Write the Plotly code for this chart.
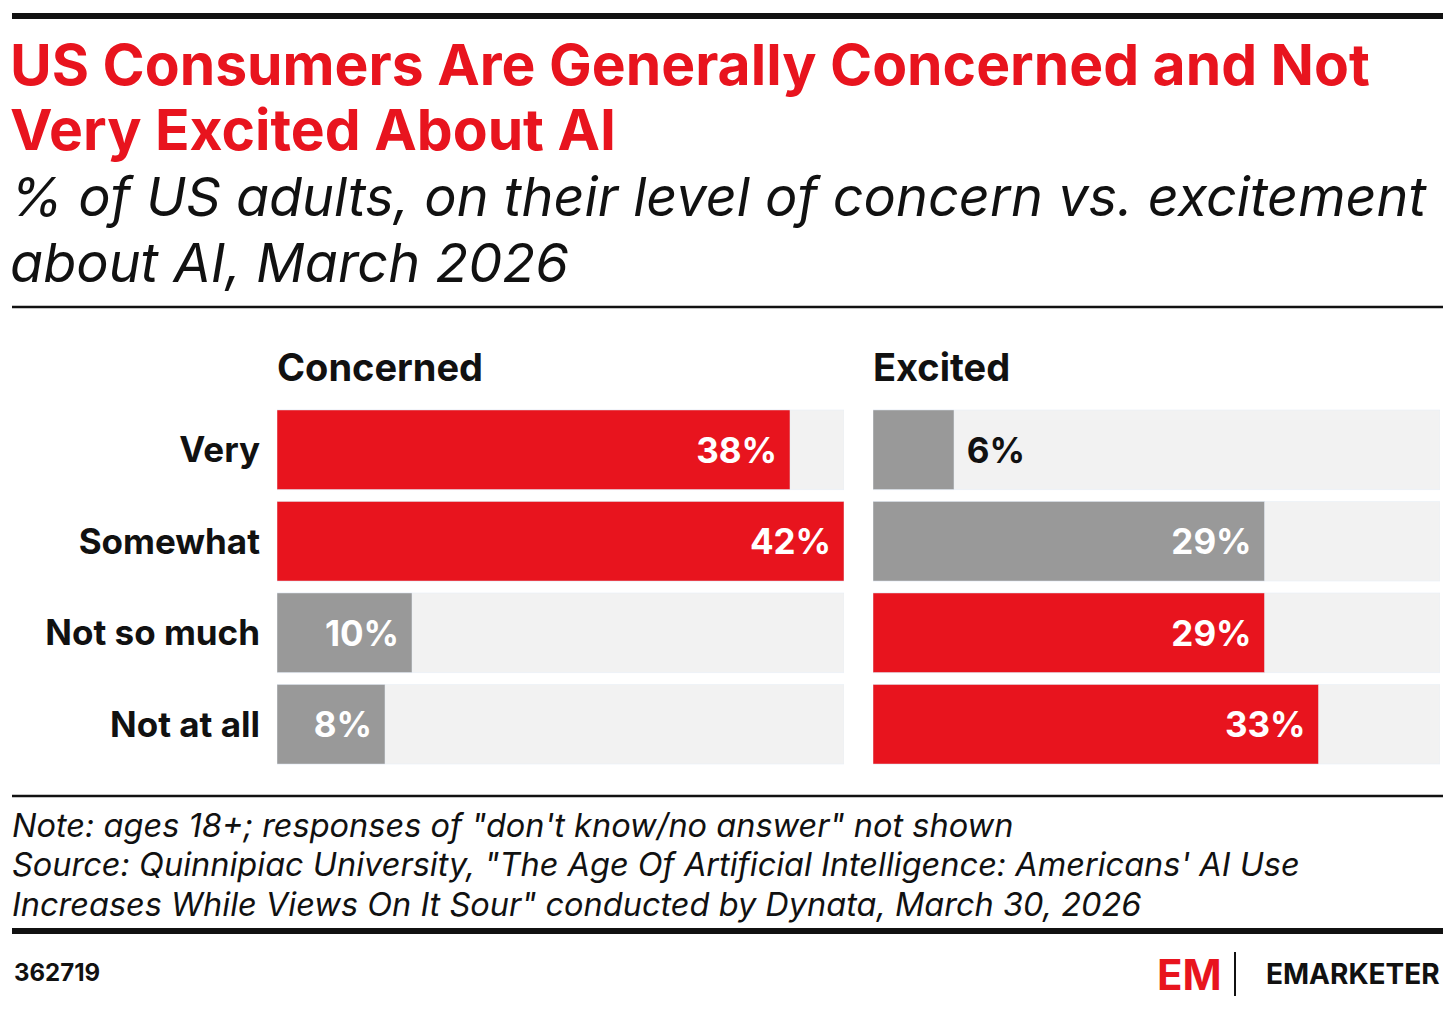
import plotly.graph_objects as go

categories = ["Very", "Somewhat", "Not so much", "Not at all"]
concerned = [38, 42, 10, 8]
excited = [6, 29, 29, 33]
concerned_colors = ["#e8141e", "#e8141e", "#999999", "#999999"]
excited_colors = ["#999999", "#999999", "#e8141e", "#e8141e"]

# page has an 8px body margin, so the figure is drawn 16px smaller
OFF = 8
W, H = 1455 - 2 * OFF, 1009 - 2 * OFF
RED = "#e8141e"
FONT = "Inter"

def px(x):
    return (x - OFF) / W

def py(y):
    return 1 - (y - OFF) / H

fig = go.Figure()

for vals, cols, xa, ya in [(concerned, concerned_colors, "x", "y"),
                           (excited, excited_colors, "x2", "y2")]:
    fig.add_trace(go.Bar(y=categories, x=[42] * 4, orientation="h",
                         marker_color="#f2f2f2", hoverinfo="skip",
                         xaxis=xa, yaxis=ya, showlegend=False))
    inside = [v >= 8 for v in vals]
    fig.add_trace(go.Bar(
        y=categories, x=vals, orientation="h", marker_color=cols,
        text=[f"<b>{v}%</b>&nbsp;" if i else f"&nbsp;<b>{v}%</b>" for v, i in zip(vals, inside)],
        textposition=["inside" if i else "outside" for i in inside],
        insidetextanchor="end",
        textfont=dict(family=FONT, size=35, color=["white" if i else "#111" for i in inside]),
        cliponaxis=False, xaxis=xa, yaxis=ya, showlegend=False))

ax = dict(range=[0, 42], visible=False, fixedrange=True)
fig.update_layout(
    width=W, height=H, margin=dict(l=0, r=0, t=0, b=0),
    paper_bgcolor="white", plot_bgcolor="white",
    barmode="overlay", bargap=0.13,
    xaxis=dict(domain=[px(277), px(844)], **ax),
    xaxis2=dict(domain=[px(873), px(1440)], **ax),
    yaxis=dict(domain=[py(770), py(404)], autorange="reversed", showgrid=False,
               showline=False, ticks="", tickfont=dict(family=FONT, size=35, color="#111"),
               tickvals=categories, ticktext=[f"<b>{c}</b>" for c in categories],
               ticklabelstandoff=16),
    yaxis2=dict(domain=[py(770), py(404)], anchor="x2", showticklabels=False,
                autorange="reversed", showgrid=False),
)

def text(x, y, s, size, color="#111", bold=False, italic=False, anchor="left"):
    if bold:
        s = f"<b>{s}</b>"
    if italic:
        s = f"<i>{s}</i>"
    fig.add_annotation(x=px(x), y=py(y), xref="paper", yref="paper", text=s,
                       showarrow=False, xanchor=anchor, yanchor="middle", align="left",
                       font=dict(family=FONT, size=size, color=color))

text(8, 65, "US Consumers Are Generally Concerned and Not", 57, RED, bold=True)
text(8, 130, "Very Excited About AI", 57, RED, bold=True)
text(8, 197, "% of US adults, on their level of concern vs. excitement", 54, italic=True)
text(8, 263, "about AI, March 2026", 54, italic=True)
text(275, 367, "Concerned", 38, bold=True)
text(871, 367, "Excited", 38, bold=True)
text(10, 825, "Note: ages 18+; responses of \"don't know/no answer\" not shown", 32.5, italic=True)
text(10, 864, "Source: Quinnipiac University, \"The Age Of Artificial Intelligence: Americans' AI Use", 32.5, italic=True)
text(10, 904, "Increases While Views On It Sour\" conducted by Dynata, March 30, 2026", 32.5, italic=True)
text(12, 972, "362719", 24, bold=True)
text(1155, 974, "EM", 42, RED, bold=True)
text(1442, 974, "EMARKETER", 28, bold=True, anchor="right")

def hline(y, w):
    fig.add_shape(type="line", xref="paper", yref="paper", x0=px(12), x1=px(1443),
                  y0=py(y), y1=py(y), line=dict(color="#111", width=w))

hline(16, 6)
hline(307, 2.5)
hline(796, 2.5)
hline(931, 6)
fig.add_shape(type="line", xref="paper", yref="paper", x0=px(1235), x1=px(1235),
              y0=py(952), y1=py(996), line=dict(color="#111", width=2))

fig.write_html("out.html")
